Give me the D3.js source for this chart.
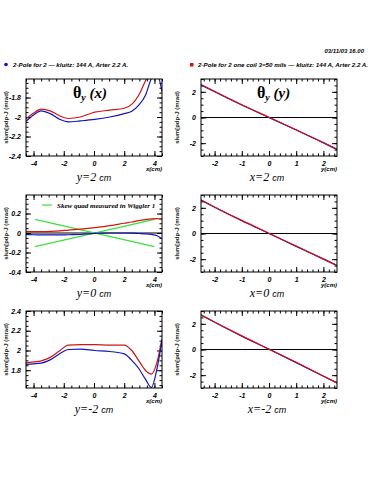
<!DOCTYPE html>
<html>
<head>
<meta charset="utf-8">
<script src="https://cdn.jsdelivr.net/npm/d3@7"></script>
<style>
  body { margin: 0; background: #fff; }
  text { font-family: "Liberation Sans", Arial, sans-serif; }
</style>
</head>
<body>
<div id="chart-container"></div>
<script>
// ---- data ----
const headerDate = "03/11/03  16.00";
const legendBlue = "2-Pole for 2  \u2014 kluitz: 144 A, Arter 2.2 A.";
const legendRed = "2-Pole for 2 one coil 3=50 mils  \u2014 kluitz: 144 A, Arter 2.2 A.";
const yAxisLabel = "slum[pdp-J (mrad)";

// left column: theta_y vs x
const xLeft = [-4.5, -4.0, -3.5, -2.9, -2.25, -1.7, -0.9, 0.05, 1.05, 2.0, 2.5, 2.95, 3.4, 3.8, 4.15, 4.5];
const blueY2 = [-2.045, -1.98, -1.937, -1.965, -2.025, -2.05, -2.04, -2.025, -2.0, -1.965, -1.94, -1.88, -1.78, -1.605, -1.55, -1.74];
const redY2 = [-2.02, -1.96, -1.92, -1.937, -1.99, -2.015, -2.0, -1.95, -1.93, -1.91, -1.87, -1.78, -1.63, -1.5, -1.42, -1.4];
const blueY0 = [-0.017, -0.018, -0.02, -0.02, -0.02, -0.018, -0.015, -0.003, 0.0, 0.0, -0.002, -0.005, -0.008, -0.014, -0.025, -0.06];
const redY0 = [0.017, 0.015, 0.015, 0.017, 0.022, 0.03, 0.04, 0.055, 0.075, 0.1, 0.113, 0.127, 0.138, 0.145, 0.147, 0.143];
const blueYm2 = [1.86, 1.865, 1.872, 1.905, 1.97, 2.01, 2.013, 2.0, 1.99, 1.965, 1.9, 1.82, 1.71, 1.625, 1.8, 2.11];
const redYm2 = [1.875, 1.885, 1.895, 1.93, 2.0, 2.055, 2.06, 2.06, 2.055, 2.055, 2.0, 1.9, 1.8, 1.76, 1.87, 2.12];

// skew quad lines (y=0 panel)
const skewX = [-3.9, 4.0];
const skewA = [0.14, -0.14];
const skewB = [-0.14, 0.14];
const skewLabel = "Skew quad measured in Wiggler 1";

// right column: theta_y vs y
const yRight = [-2.5, -2, -1, 0, 1, 2, 2.5];
const blueX2 = [2.52, 2.0, 0.97, 0.0, -0.98, -1.98, -2.5];
const redX2 = [2.57, 2.04, 1.0, 0.02, -0.96, -1.95, -2.46];
const blueX0 = [2.6, 2.05, 1.0, 0.0, -1.0, -2.0, -2.5];
const redX0 = [2.62, 2.07, 1.02, 0.02, -0.98, -1.98, -2.48];
const blueXm2 = [2.68, 2.12, 1.04, 0.02, -1.02, -2.08, -2.62];
const redXm2 = [2.7, 2.14, 1.06, 0.03, -1.0, -2.06, -2.6];

// ticks
const xTicksLeft = [-4, -2, 0, 2, 4];
const yTicksRow1 = [-2.4, -2.2, -2, -1.8];
const yTicksRow2 = [-0.4, -0.2, 0, 0.2];
const yTicksRow3 = [1.8, 2, 2.2, 2.4];
const xTicksRight = [-2, -1, 0, 1, 2];
const yTicksRight = [-2, 0, 2];

const rowTitlesLeft = ["y=2", "y=0", "y=-2"];
const rowTitlesRight = ["x=2", "x=0", "x=-2"];

// ---- layout ----
const W = 375, H = 500;
const pw = 136, ph = 77;
const colX = [26, 201];
const rowY = [79, 195, 311];
const BLUE = "#1414b4", RED = "#d21414", GREEN = "#3ce03c";

const svg = d3.select("#chart-container")
  .append("svg")
    .attr("width", W)
    .attr("height", H);

const fmt = d => String(+d.toFixed(2));
const minors = (dom, step) => d3.range(Math.ceil(dom[0] / step) * step, dom[1] + 1e-9, step);

function drawPanel(cfg) {
  const g = svg.append("g").attr("transform", `translate(${cfg.left},${cfg.top})`);
  const x = d3.scaleLinear().domain(cfg.xDom).range([0, pw]);
  const y = d3.scaleLinear().domain(cfg.yDom).range([ph, 0]);

  const clipId = "clip" + cfg.id;
  g.append("clipPath").attr("id", clipId)
    .append("rect").attr("width", pw).attr("height", ph);

  // minor ticks, all four sides
  const xm = minors(cfg.xDom, cfg.xMinor), ym = minors(cfg.yDom, cfg.yMinor);
  g.append("g").attr("transform", `translate(0,${ph})`)
    .call(d3.axisBottom(x).tickValues(xm).tickSize(-2.5).tickSizeOuter(0).tickFormat(""));
  g.append("g")
    .call(d3.axisTop(x).tickValues(xm).tickSize(-2.5).tickSizeOuter(0).tickFormat(""));
  g.append("g")
    .call(d3.axisLeft(y).tickValues(ym).tickSize(-2.5).tickSizeOuter(0).tickFormat(""));
  g.append("g").attr("transform", `translate(${pw},0)`)
    .call(d3.axisRight(y).tickValues(ym).tickSize(-2.5).tickSizeOuter(0).tickFormat(""));

  // major ticks + labels
  g.append("g").attr("class", "lab").attr("transform", `translate(0,${ph})`)
    .call(d3.axisBottom(x).tickValues(cfg.xTicks).tickSize(-5).tickSizeOuter(0).tickPadding(5).tickFormat(fmt));
  g.append("g")
    .call(d3.axisTop(x).tickValues(cfg.xTicks).tickSize(-5).tickSizeOuter(0).tickFormat(""));
  g.append("g").attr("class", "lab")
    .call(d3.axisLeft(y).tickValues(cfg.yTicks).tickSize(-5).tickSizeOuter(0).tickPadding(5).tickFormat(fmt));
  g.append("g").attr("transform", `translate(${pw},0)`)
    .call(d3.axisRight(y).tickValues(cfg.yTicks).tickSize(-5).tickSizeOuter(0).tickFormat(""));

  g.selectAll(".domain").remove();
  g.selectAll(".tick line").attr("stroke", "#000").attr("stroke-width", 1);
  g.selectAll(".lab .tick text")
    .attr("fill", "#000")
    .style("font-size", "7px")
    .style("font-weight", "bold")
    .style("font-style", "italic");

  const plot = g.append("g").attr("clip-path", `url(#${clipId})`);

  if (cfg.zeroLine) {
    plot.append("line")
      .attr("x1", 0).attr("x2", pw)
      .attr("y1", y(0)).attr("y2", y(0))
      .attr("stroke", "#000").attr("stroke-width", 1);
  }

  const line = d3.line()
    .x(d => x(d[0]))
    .y(d => y(d[1]))
    .curve(d3.curveMonotoneX);

  cfg.series.forEach(s => {
    plot.append("path")
      .datum(d3.zip(s.xs, s.ys))
      .attr("fill", "none")
      .attr("stroke", s.color)
      .attr("stroke-width", 1.2)
      .attr("d", s.straight ? d3.line().x(d => x(d[0])).y(d => y(d[1])) : line);
  });

  // frame
  g.append("rect")
    .attr("width", pw).attr("height", ph)
    .attr("fill", "none").attr("stroke", "#000").attr("stroke-width", 1);

  // axis name under the last tick
  g.append("text")
    .attr("x", pw).attr("y", ph + 15)
    .attr("text-anchor", "end")
    .style("font-size", "6px").style("font-weight", "bold").style("font-style", "italic")
    .text(cfg.xName);

  // rotated y label
  g.append("text")
    .attr("transform", `translate(${cfg.yLabX},${ph / 2}) rotate(-90)`)
    .attr("text-anchor", "middle")
    .style("font-size", "6px").style("font-weight", "bold")
    .attr("fill", "#222")
    .text(yAxisLabel);

  // panel caption
  const cap = g.append("text")
    .attr("x", pw / 2 + cfg.capDx).attr("y", ph + 25)
    .attr("text-anchor", "middle")
    .style("font-family", "'Liberation Serif', serif")
    .style("font-style", "italic");
  cap.append("tspan").style("font-size", "12px").text(cfg.caption + " ");
  cap.append("tspan").style("font-size", "9px").style("font-family", "'Liberation Sans', sans-serif").text("cm");

  return { g, x, y };
}

const leftRows = [
  { yDom: [-2.4, -1.61], yTicks: yTicksRow1, blue: blueY2, red: redY2 },
  { yDom: [-0.4, 0.39], yTicks: yTicksRow2, blue: blueY0, red: redY0, zero: true, skew: true },
  { yDom: [1.62, 2.4], yTicks: yTicksRow3, blue: blueYm2, red: redYm2 }
];
const rightRows = [
  { blue: blueX2, red: redX2 },
  { blue: blueX0, red: redX0 },
  { blue: blueXm2, red: redXm2 }
];

leftRows.forEach((r, i) => {
  const series = [];
  if (r.skew) {
    series.push({ xs: skewX, ys: skewA, color: GREEN, straight: true });
    series.push({ xs: skewX, ys: skewB, color: GREEN, straight: true });
  }
  series.push({ xs: xLeft, ys: r.red, color: RED });
  series.push({ xs: xLeft, ys: r.blue, color: BLUE });
  const p = drawPanel({
    id: "L" + i, left: colX[0], top: rowY[i],
    xDom: [-4.5, 4.5], yDom: r.yDom, xTicks: xTicksLeft, yTicks: r.yTicks,
    xMinor: 0.5, yMinor: 0.05, zeroLine: r.zero, series,
    xName: "x(cm)", yLabX: -18, caption: rowTitlesLeft[i], capDx: 0
  });
  if (r.skew) {
    p.g.append("line")
      .attr("x1", 16).attr("x2", 26).attr("y1", 10).attr("y2", 10)
      .attr("stroke", GREEN).attr("stroke-width", 1.2);
    p.g.append("text")
      .attr("x", 31).attr("y", 12.5)
      .style("font-size", "7px").style("font-style", "italic").style("font-weight", "bold")
      .style("font-family", "'Liberation Serif', serif")
      .text(skewLabel);
  }
});

rightRows.forEach((r, i) => {
  drawPanel({
    id: "R" + i, left: colX[1], top: rowY[i],
    xDom: [-2.5, 2.5], yDom: [-3, 3], xTicks: xTicksRight, yTicks: yTicksRight,
    xMinor: 0.2, yMinor: 0.5, zeroLine: true,
    series: [
      { xs: yRight, ys: r.blue, color: BLUE },
      { xs: yRight, ys: r.red, color: RED }
    ],
    xName: "y(cm)", yLabX: -22, caption: rowTitlesRight[i], capDx: -2
  });
});

// big panel titles
[[colX[0] + 47, "x"], [colX[1] + 56, "y"]].forEach(([tx, v]) => {
  const t = svg.append("text")
    .attr("x", tx).attr("y", 98)
    .style("font-family", "'Liberation Serif', serif")
    .style("font-weight", "bold");
  t.append("tspan").style("font-size", "16px").text("\u03b8");
  t.append("tspan").style("font-size", "10px").attr("dy", 3).style("font-style", "italic").text("y");
  t.append("tspan").style("font-size", "15px").attr("dy", -3).style("font-style", "italic").text(" (" + v + ")");
});

// header
svg.append("text")
  .attr("x", 364).attr("y", 53)
  .attr("text-anchor", "end")
  .style("font-size", "6px").style("font-weight", "bold").style("font-style", "italic")
  .text(headerDate);

// top legend
svg.append("circle").attr("cx", 6).attr("cy", 64.5).attr("r", 1.8).attr("fill", BLUE);
svg.append("text")
  .attr("x", 13).attr("y", 66.5)
  .style("font-size", "6.2px").style("font-weight", "bold").style("font-style", "italic")
  .text(legendBlue);
svg.append("rect").attr("x", 190).attr("y", 63).attr("width", 3.5).attr("height", 3.5).attr("fill", RED);
svg.append("text")
  .attr("x", 198).attr("y", 66.5)
  .style("font-size", "6.2px").style("font-weight", "bold").style("font-style", "italic")
  .text(legendRed);
</script>
</body>
</html>
